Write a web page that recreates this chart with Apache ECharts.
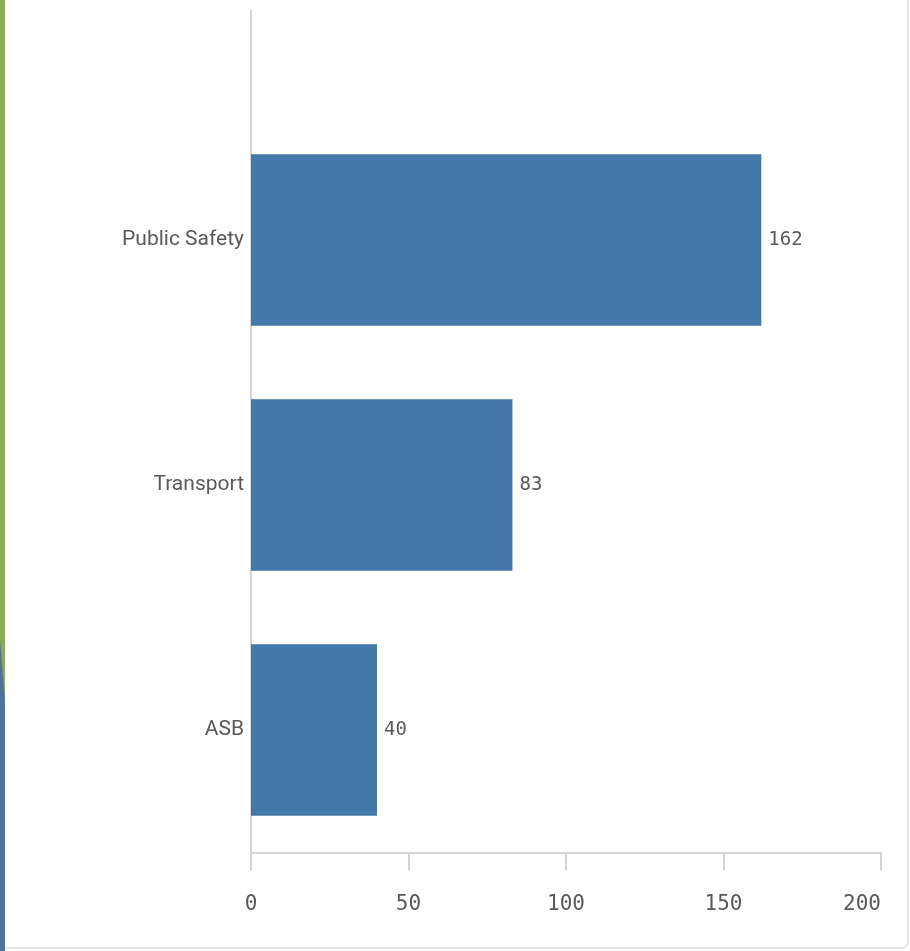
<!DOCTYPE html>
<html>
<head>
<meta charset="utf-8">
<script src="https://cdn.jsdelivr.net/npm/echarts@6/dist/echarts.min.js"></script>
<style>
html,body{margin:0;padding:0;background:#fff;}
#c{width:910px;height:951px;}
</style>
</head>
<body>
<div id="c"></div>
<script>
const categories = ["ASB", "Transport", "Public Safety"];
const values = [40, 83, 162];
const xTicks = [0, 50, 100, 150, 200];

const chart = echarts.init(document.getElementById('c'), null, {renderer: 'canvas'});
const option = {
  animation: false,
  backgroundColor: '#ffffff',
  grid: {left: 251, right: 29, top: 117.5, bottom: 98.5, containLabel: false},
  xAxis: {
    type: 'value',
    min: xTicks[0],
    max: xTicks[xTicks.length - 1],
    interval: 50,
    splitLine: {show: false},
    axisLine: {show: true, lineStyle: {color: '#d4d4d4', width: 2}},
    axisTick: {show: true, length: 18, lineStyle: {color: '#d4d4d4', width: 2}},
    axisLabel: {
      margin: 42,
      color: '#595959',
      fontFamily: 'DejaVu Sans Mono',
      fontSize: 21,
      alignMaxLabel: 'right'
    }
  },
  yAxis: {
    type: 'category',
    data: categories,
    axisLine: {show: true, lineStyle: {color: '#d4d4d4', width: 2}},
    axisTick: {show: false},
    axisLabel: {
      margin: 7,
      color: '#595959',
      fontFamily: 'Roboto',
      fontSize: 21
    }
  },
  series: [{
    type: 'bar',
    data: values,
    barWidth: '70%',
    itemStyle: {color: '#4477aa'},
    label: {
      show: true,
      position: 'right',
      distance: 7,
      color: '#595959',
      fontFamily: 'DejaVu Sans Mono',
      fontSize: 19
    }
  }],
  graphic: [
    {type: 'line', shape: {x1: 251, y1: 10, x2: 251, y2: 118}, style: {stroke: '#d4d4d4', lineWidth: 2}, silent: true},
    {type: 'rect', shape: {x: -10, y: -10, width: 918, height: 958, r: 6}, style: {fill: 'none', stroke: '#dcdcdc', lineWidth: 1.5}, silent: true},
    {type: 'rect', shape: {x: 0, y: 0, width: 5, height: 951}, style: {fill: '#8aab57'}, silent: true},
    {type: 'polygon', shape: {points: [[0, 640], [5, 700], [5, 951], [0, 951]]}, style: {fill: '#4f7398'}, silent: true}
  ]
};
chart.setOption(option);
</script>
</body>
</html>
